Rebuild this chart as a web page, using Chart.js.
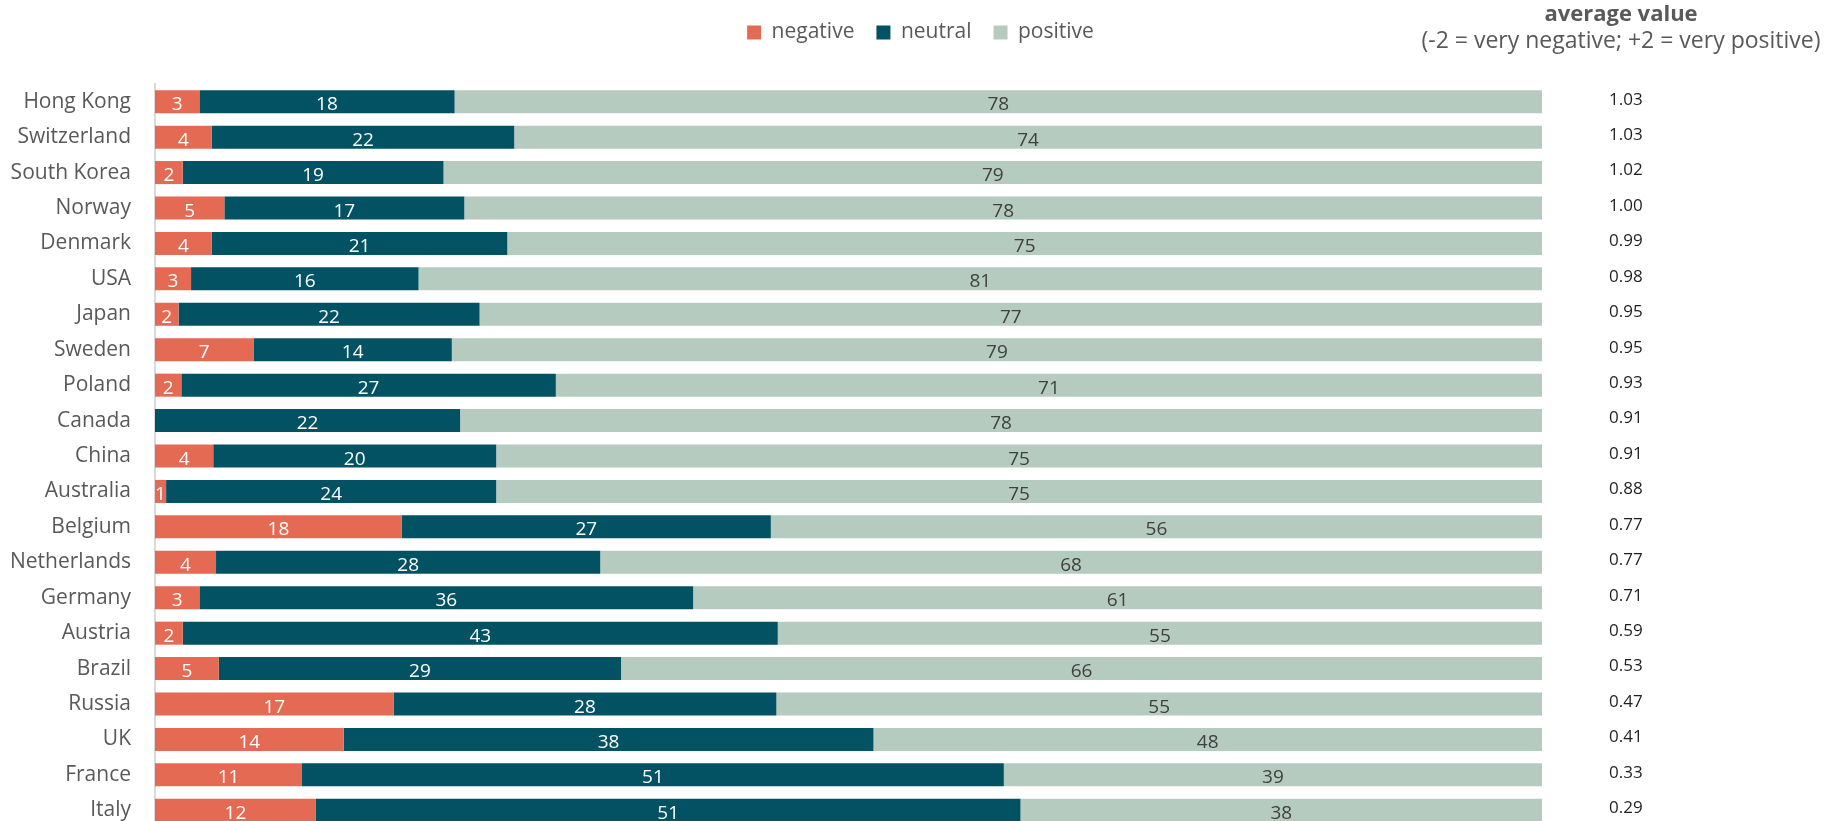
<!DOCTYPE html>
<html lang="en">
<head>
<meta charset="utf-8">
<title>Average value by country</title>
<script src="https://cdn.jsdelivr.net/npm/chart.js@4/dist/chart.umd.min.js"></script>
<style>
    html, body {
        margin: 0;
        padding: 0;
        background: #ffffff;
        overflow: hidden;
    }
    canvas {
        display: block;
    }
</style>
</head>
<body>
<canvas id="sentimentChart" width="1841" height="828"></canvas>
<script>
// Data
const countries = ['Hong Kong', 'Switzerland', 'South Korea', 'Norway', 'Denmark', 'USA', 'Japan',
    'Sweden', 'Poland', 'Canada', 'China', 'Australia', 'Belgium', 'Netherlands', 'Germany',
    'Austria', 'Brazil', 'Russia', 'UK', 'France', 'Italy'];
const negativeShare = [3.2, 4.1, 2.0, 5.0, 4.1, 2.6, 1.7, 7.1, 1.9, 0, 4.2, 0.8, 17.8, 4.4, 3.2, 2.0, 4.6, 17.2, 13.6, 10.6, 11.6];
const neutralShare = [18.4, 21.8, 18.8, 17.3, 21.3, 16.4, 21.7, 14.3, 27.0, 22.0, 20.4, 23.8, 26.6, 27.7, 35.6, 42.9, 29.0, 27.6, 38.2, 50.6, 50.8];
const positiveShare = [78.4, 74.1, 79.2, 77.7, 74.6, 81.0, 76.6, 78.6, 71.1, 78.0, 75.4, 75.4, 55.6, 67.9, 61.2, 55.1, 66.4, 55.2, 48.2, 38.8, 37.6];
const averageValue = [1.03, 1.03, 1.02, 1.00, 0.99, 0.98, 0.95, 0.95, 0.93, 0.91, 0.91, 0.88, 0.77, 0.77, 0.71, 0.59, 0.53, 0.47, 0.41, 0.33, 0.29];

// Colors & fonts
const COLOR_NEGATIVE = '#E46A53';
const COLOR_NEUTRAL = '#025263';
const COLOR_POSITIVE = '#B5CBC0';
const TEXT_GREY = '#595959';
const FONT_FAMILY = '"Open Sans", "Noto Sans", sans-serif';

// Segment labels, rounded to whole percent
const segmentLabels = {
    id: 'segmentLabels',
    afterDatasetsDraw(chart) {
        const ctx = chart.ctx;
        ctx.save();
        ctx.font = `19px ${FONT_FAMILY}`;
        ctx.textAlign = 'center';
        ctx.textBaseline = 'alphabetic';
        chart.data.datasets.forEach((dataset, i) => {
            const meta = chart.getDatasetMeta(i);
            ctx.fillStyle = dataset.labelColor;
            meta.data.forEach((bar, j) => {
                const value = dataset.data[j];
                if (!value) return;
                const center = bar.getCenterPoint();
                ctx.fillText(Math.round(value), center.x, center.y + 8.5);
            });
        });
        ctx.restore();
    }
};

// Header above the average value column
const averageHeader = {
    id: 'averageHeader',
    afterDraw(chart) {
        const ctx = chart.ctx;
        ctx.save();
        ctx.fillStyle = TEXT_GREY;
        ctx.textAlign = 'center';
        ctx.textBaseline = 'middle';
        ctx.font = `bold 22px ${FONT_FAMILY}`;
        ctx.fillText('average value', 1621, 15);
        ctx.font = `23px ${FONT_FAMILY}`;
        ctx.fillText('(-2 = very negative; +2 = very positive)', 1621, 41);
        ctx.restore();
    }
};

// Scale paddings would otherwise shrink the plot area at the bottom
function dropScalePadding(scale) {
    scale.paddingTop = 0;
    scale.paddingBottom = 0;
}

// Chart
const ctx = document.getElementById('sentimentChart').getContext('2d');
const chart = new Chart(ctx, {
    type: 'bar',
    data: {
        labels: countries,
        datasets: [
            { label: 'negative', data: negativeShare, backgroundColor: COLOR_NEGATIVE, labelColor: '#ffffff' },
            { label: 'neutral', data: neutralShare, backgroundColor: COLOR_NEUTRAL, labelColor: '#ffffff' },
            { label: 'positive', data: positiveShare, backgroundColor: COLOR_POSITIVE, labelColor: '#404040' }
        ]
    },
    options: {
        indexAxis: 'y',
        responsive: false,
        animation: false,
        barPercentage: 0.65,
        categoryPercentage: 1,
        layout: {
            padding: 0
        },
        plugins: {
            legend: {
                position: 'top',
                labels: {
                    boxWidth: 14,
                    boxHeight: 14,
                    padding: 22,
                    color: TEXT_GREY,
                    font: { family: FONT_FAMILY, size: 21 }
                }
            },
            tooltip: { enabled: false }
        },
        scales: {
            x: {
                type: 'linear',
                position: 'top',
                stacked: true,
                min: 0,
                max: 100,
                grid: { display: false },
                border: { display: false },
                ticks: { display: false },
                afterFit(scale) {
                    scale.height = 31;
                }
            },
            y: {
                stacked: true,
                grid: { display: false, drawTicks: false },
                border: { display: true, color: '#D9D9D9', width: 2 },
                ticks: {
                    padding: 24,
                    color: TEXT_GREY,
                    font: { family: FONT_FAMILY, size: 21 }
                },
                afterFit(scale) {
                    scale.width = 155;
                    dropScalePadding(scale);
                }
            },
            y2: {
                type: 'category',
                position: 'right',
                labels: countries,
                offset: true,
                grid: { display: false, drawTicks: false },
                border: { display: false },
                ticks: {
                    autoSkip: false,
                    padding: 67,
                    labelOffset: -2,
                    color: '#1f1f1f',
                    font: { family: FONT_FAMILY, size: 17 },
                    callback: (value, index) => averageValue[index].toFixed(2)
                },
                afterFit(scale) {
                    scale.width = 299;
                    dropScalePadding(scale);
                }
            }
        }
    },
    plugins: [segmentLabels, averageHeader]
});
</script>
</body>
</html>
